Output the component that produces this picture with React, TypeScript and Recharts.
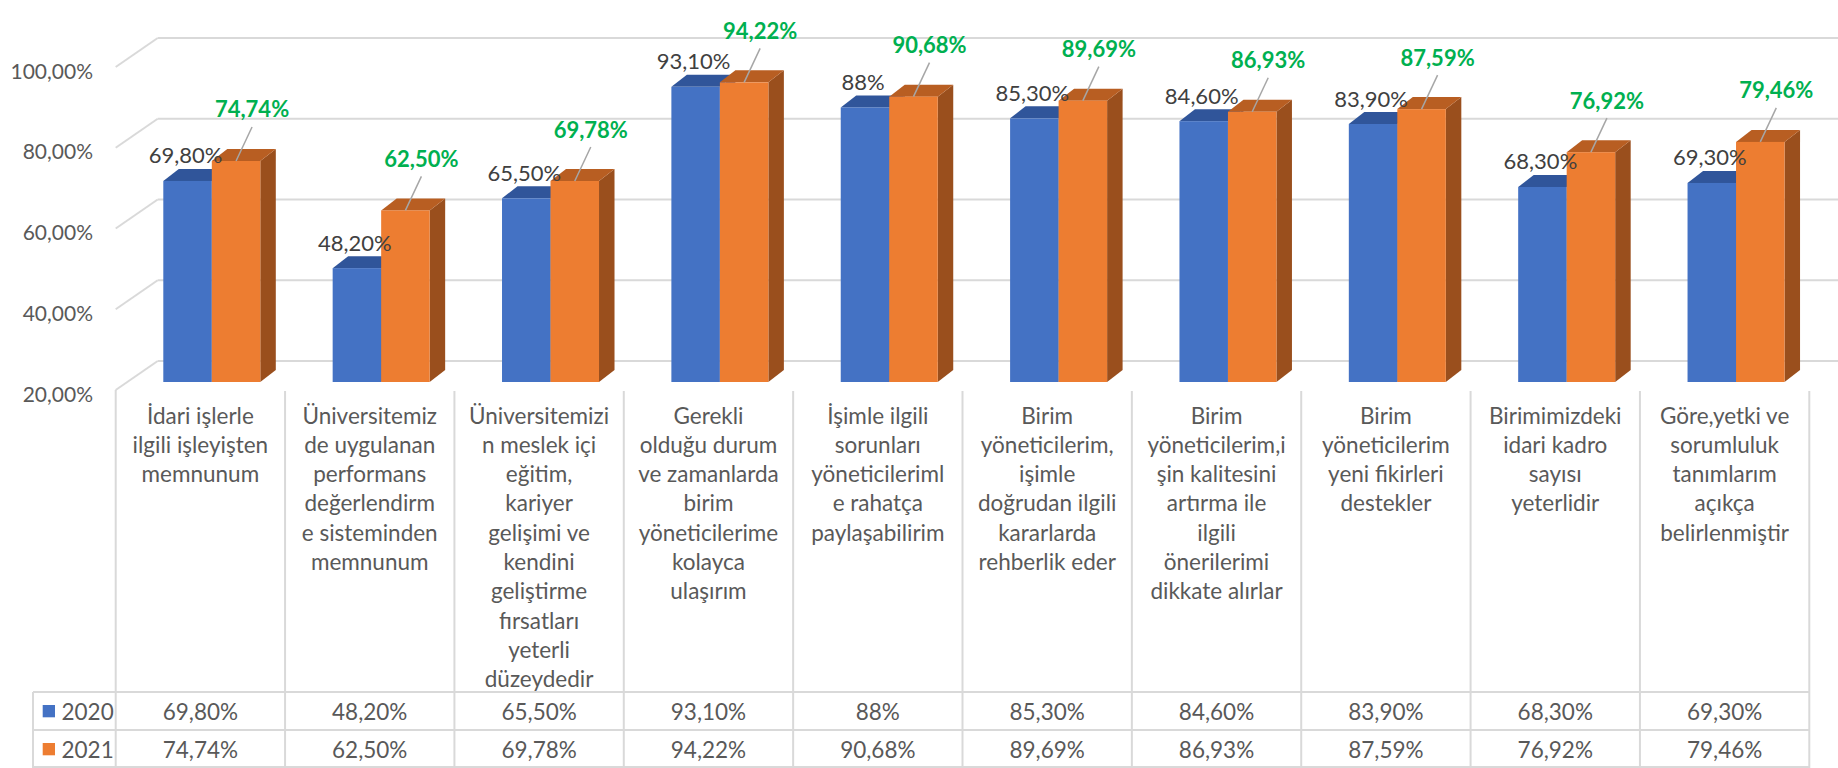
import React from 'react';
import { BarChart, Bar, XAxis, YAxis, CartesianGrid, LabelList } from 'recharts';

// ---------- data ----------
const categoryLines: string[][] = [
  ['İdari işlerle', 'ilgili işleyişten', 'memnunum'],
  ['Üniversitemiz', 'de uygulanan', 'performans', 'değerlendirm', 'e sisteminden', 'memnunum'],
  ['Üniversitemizi', 'n meslek içi', 'eğitim,', 'kariyer', 'gelişimi ve', 'kendini', 'geliştirme', 'fırsatları', 'yeterli', 'düzeydedir'],
  ['Gerekli', 'olduğu durum', 've zamanlarda', 'birim', 'yöneticilerime', 'kolayca', 'ulaşırım'],
  ['İşimle ilgili', 'sorunları', 'yöneticileriml', 'e rahatça', 'paylaşabilirim'],
  ['Birim', 'yöneticilerim,', 'işimle', 'doğrudan ilgili', 'kararlarda', 'rehberlik eder'],
  ['Birim', 'yöneticilerim,i', 'şin kalitesini', 'artırma ile', 'ilgili', 'önerilerimi', 'dikkate alırlar'],
  ['Birim', 'yöneticilerim', 'yeni fikirleri', 'destekler'],
  ['Birimimizdeki', 'idari kadro', 'sayısı', 'yeterlidir'],
  ['Göre,yetki ve', 'sorumluluk', 'tanımlarım', 'açıkça', 'belirlenmiştir'],
];
const values2020 = [69.8, 48.2, 65.5, 93.1, 88, 85.3, 84.6, 83.9, 68.3, 69.3];
const values2021 = [74.74, 62.5, 69.78, 94.22, 90.68, 89.69, 86.93, 87.59, 76.92, 79.46];
const labels2020 = ['69,80%', '48,20%', '65,50%', '93,10%', '88%', '85,30%', '84,60%', '83,90%', '68,30%', '69,30%'];
const labels2021 = ['74,74%', '62,50%', '69,78%', '94,22%', '90,68%', '89,69%', '86,93%', '87,59%', '76,92%', '79,46%'];
const seriesNames = ['2020', '2021'];
const yTicks = [20, 40, 60, 80, 100];
const yTickLabels = ['20,00%', '40,00%', '60,00%', '80,00%', '100,00%'];

const data = categoryLines.map((_, i) => ({
  name: String(i),
  v2020: values2020[i],
  v2021: values2021[i],
}));

// ---------- layout / style ----------
const W = 1838;
const H = 768;
const FONT = "Lato, 'Open Sans', sans-serif";
const TEXT = '#595959';
const GRID = '#D9D9D9';
const BLUE = '#4472C4';
const BLUE_TOP = '#30559A';
const ORANGE = '#ED7D31';
const ORANGE_TOP = '#B85E22';
const ORANGE_SIDE = '#9A4F1D';
const GREEN = '#00B050';

const TABLE_LEFT = 33;
const AXIS_LEFT = 115.7; // floor front edge x
const FRONT_DX = 11.6; // floor front edge -> bar front plane
const FRONT_DY = 8;
const WALL_DX = 42; // floor front edge -> back wall
const WALL_DY = 29;
const BAR_DX = 15.5; // bar depth
const BAR_DY = 12;
const PLOT_LEFT = AXIS_LEFT + FRONT_DX;
const PLOT_RIGHT = 1809.3 + FRONT_DX;
const PLOT_TOP = 59;
const PLOT_BOTTOM = 382;
const COL_W = (PLOT_RIGHT - PLOT_LEFT) / categoryLines.length;
const ROW1 = 692;
const ROW2 = 730;
const ROW3 = 767;
const CAT_TOP = 391;
const LINE_H = 29.3;
const FS = 22.5;
const FS_AXIS = 21;
const FS_LABEL = 22;

const makeBox = (front: string, top: string, side: string) => (p: any) => {
  const { x, y, width, height } = p;
  if (width == null || height == null) return null;
  const x2 = x + width;
  const y2 = y + height;
  return (
    <g>
      <polygon
        points={`${x2},${y} ${x2 + BAR_DX},${y - BAR_DY} ${x2 + BAR_DX},${y2 - BAR_DY} ${x2},${y2}`}
        fill={side}
      />
      <polygon
        points={`${x},${y} ${x + BAR_DX},${y - BAR_DY} ${x2 + BAR_DX},${y - BAR_DY} ${x2},${y}`}
        fill={top}
      />
      <rect x={x} y={y} width={width} height={height} fill={front} />
    </g>
  );
};

const GridLine = (p: any) => {
  const { y1, x1 } = p;
  const fx = x1 - FRONT_DX;
  const fy = y1 + FRONT_DY;
  const bx = fx + WALL_DX;
  const by = fy - WALL_DY;
  return (
    <g>
      <line x1={fx} y1={fy} x2={bx} y2={by} stroke={GRID} strokeWidth={2} />
      <line x1={bx} y1={by} x2={W + 20} y2={by} stroke={GRID} strokeWidth={2} />
    </g>
  );
};

const YTick = (p: any) => {
  const { y, payload } = p;
  const idx = yTicks.indexOf(payload.value);
  return (
    <text x={93} y={y + 11} textAnchor="end" dominantBaseline="central" fill={TEXT} fontSize={FS_AXIS} fontFamily={FONT}>
      {yTickLabels[idx]}
    </text>
  );
};

const XTick = (p: any) => {
  const { x, payload } = p;
  const i = payload.index;
  const cx = x - FRONT_DX;
  const left = cx - COL_W / 2;
  const right = cx + COL_W / 2;
  const lines = categoryLines[i];
  return (
    <g>
      {i === 0 && (
        <g>
          <line x1={left} y1={CAT_TOP - 1} x2={left} y2={H} stroke={GRID} strokeWidth={2} />
          <line x1={TABLE_LEFT} y1={ROW1} x2={TABLE_LEFT} y2={H} stroke={GRID} strokeWidth={2} />
          {[ROW1, ROW2, ROW3].map((ry) => (
            <line key={ry} x1={TABLE_LEFT} y1={ry} x2={left} y2={ry} stroke={GRID} strokeWidth={2} />
          ))}
          {seriesNames.map((s, k) => {
            const ry = k === 0 ? (ROW1 + ROW2) / 2 : (ROW2 + ROW3) / 2 + 0.5;
            return (
              <g key={s}>
                <rect x={42.7} y={ry - 6} width={12.3} height={12.3} fill={k === 0 ? BLUE : ORANGE} />
                <text x={61.5} y={ry} dominantBaseline="central" fill={TEXT} fontSize={FS} fontFamily={FONT}>
                  {s}
                </text>
              </g>
            );
          })}
        </g>
      )}
      <line x1={right} y1={CAT_TOP} x2={right} y2={H} stroke={GRID} strokeWidth={2} />
      {[ROW1, ROW2, ROW3].map((ry) => (
        <line key={ry} x1={left} y1={ry} x2={right} y2={ry} stroke={GRID} strokeWidth={2} />
      ))}
      {lines.map((t, k) => (
        <text
          key={k}
          x={cx}
          y={415 + k * LINE_H}
          textAnchor="middle"
          dominantBaseline="central"
          fill={TEXT}
          fontSize={FS}
          fontFamily={FONT}
        >
          {t}
        </text>
      ))}
      <text x={cx} y={(ROW1 + ROW2) / 2} textAnchor="middle" dominantBaseline="central" fill={TEXT} fontSize={FS} fontFamily={FONT}>
        {labels2020[i]}
      </text>
      <text x={cx} y={(ROW2 + ROW3) / 2 + 0.5} textAnchor="middle" dominantBaseline="central" fill={TEXT} fontSize={FS} fontFamily={FONT}>
        {labels2021[i]}
      </text>
    </g>
  );
};

const Label2020 = (p: any) => {
  const { x, y, width, index } = p;
  return (
    <text
      x={x + width / 2 - 2}
      y={y - 26}
      textAnchor="middle"
      dominantBaseline="central"
      fill="#404040"
      fontSize={FS_LABEL}
      fontFamily={FONT}
    >
      {labels2020[index]}
    </text>
  );
};

const Label2021 = (p: any) => {
  const { x, y, width, index } = p;
  const cx = x + width / 2;
  return (
    <g>
      <line x1={cx} y1={y} x2={cx + 16} y2={y - 34} stroke="#A6A6A6" strokeWidth={1.5} />
      <text
        x={cx + 16}
        y={y - 52}
        textAnchor="middle"
        dominantBaseline="central"
        fill={GREEN}
        fontSize={FS_LABEL}
        fontWeight="bold"
        fontFamily={FONT}
      >
        {labels2021[index]}
      </text>
    </g>
  );
};

export default function App() {
  return (
    <div style={{ position: 'fixed', left: 0, top: 0, width: W, height: H, background: '#fff' }}>
      <BarChart
        width={W}
        height={H}
        data={data}
        margin={{ top: PLOT_TOP, right: W - PLOT_RIGHT, bottom: 0, left: 0 }}
        barGap={0}
        barSize={48.5}
      >
        <CartesianGrid horizontal={GridLine as any} vertical={false} />
        <YAxis
          type="number"
          domain={[20, 100]}
          ticks={yTicks}
          width={PLOT_LEFT}
          axisLine={false}
          tickLine={false}
          tick={YTick}
          allowDataOverflow
        />
        <XAxis
          dataKey="name"
          height={H - PLOT_BOTTOM}
          axisLine={false}
          tickLine={false}
          interval={0}
          tick={XTick}
        />
        <Bar dataKey="v2020" isAnimationActive={false} shape={makeBox(BLUE, BLUE_TOP, BLUE_TOP)}>
          <LabelList dataKey="v2020" content={Label2020} />
        </Bar>
        <Bar dataKey="v2021" isAnimationActive={false} shape={makeBox(ORANGE, ORANGE_TOP, ORANGE_SIDE)}>
          <LabelList dataKey="v2021" content={Label2021} />
        </Bar>
      </BarChart>
    </div>
  );
}
